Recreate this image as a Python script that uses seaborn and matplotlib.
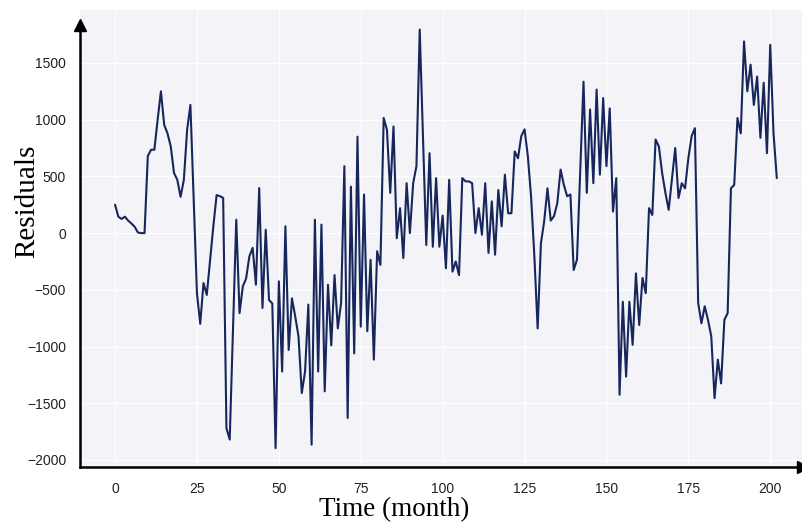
import numpy as np
import pandas as pd
import matplotlib
matplotlib.use("Agg")
import matplotlib.pyplot as plt
import seaborn as sns

# Monthly model residuals
residuals = [
    250, 145, 125, 145, 110, 85, 55, 5, 0, 0,
    680, 735, 735, 1000, 1250, 955, 880, 765, 530, 470,
    320, 470, 910, 1130, 300, -530, -800, -440, -545, -240,
    60, 335, 326, 310, -1720, -1820, -850, 118, -705, -470,
    -400, -205, -130, -455, 397, -660, 30, -590, -620, -1895,
    -425, -1220, 60, -1030, -575, -735, -910, -1410, -1220, -630,
    -1865, 118, -1220, 75, -1395, -455, -990, -370, -840, -615,
    590, -1630, 410, -1060, 850, -825, 340, -865, -235, -1115,
    -160, -280, 1015, 910, 355, 940, -45, 220, -220, 440,
    0, 440, 590, 1795, 850, -105, 705, -120, 485, -120,
    155, -310, 470, -340, -250, -370, 485, 456, 456, 440,
    0, 220, -15, 440, -175, 280, -190, 380, 60, 515,
    175, 175, 720, 660, 855, 915, 680, 320, -205, -840,
    -90, 105, 395, 110, 150, 265, 560, 425, 325, 340,
    -325, -235, 550, 1335, 355, 1090, 440, 1265, 515, 1190,
    590, 1100, 190, 485, -1425, -605, -1265, -605, -985, -355,
    -810, -395, -530, 220, 160, 825, 765, 530, 355, 205,
    480, 750, 310, 440, 395, 660, 855, 925, -615, -795,
    -645, -765, -910, -1455, -1115, -1325, -765, -705, 395, 425,
    1015, 880, 1690, 1250, 1485, 1130, 1380, 840, 1325, 705,
    1660, 880, 485,
]
months = list(range(len(residuals)))
x_ticks = [0, 25, 50, 75, 100, 125, 150, 175, 200]
y_ticks = [-2000, -1500, -1000, -500, 0, 500, 1000, 1500]

df = pd.DataFrame({"month": months, "residual": residuals})

sns.set_theme(style="darkgrid", rc={
    "axes.facecolor": "#f3f3f8",
    "grid.color": "white",
    "grid.linewidth": 1.0,
})
plt.rcParams["font.family"] = ["Liberation Sans", "DejaVu Sans"]

fig = plt.figure(figsize=(8.03, 5.25), dpi=100)
ax = fig.add_axes([80 / 803, 1 - 467 / 525, 723 / 803, 457 / 525])

sns.lineplot(data=df, x="month", y="residual", ax=ax,
             color="#17275c", linewidth=1.5)

ax.set_xlim(-10.7, 210)
ax.set_ylim(-2062, 1967)
ax.set_xticks(x_ticks)
ax.set_yticks(y_ticks)
ax.tick_params(axis="both", length=0, labelsize=10, colors="#222222")
ax.tick_params(axis="x", pad=11)
ax.tick_params(axis="y", pad=10)

for side in ("top", "right"):
    ax.spines[side].set_visible(False)
for side in ("left", "bottom"):
    ax.spines[side].set_visible(True)
    ax.spines[side].set_color("black")
    ax.spines[side].set_linewidth(1.8)
ax.spines["left"].set_bounds(-2062, 1835)

# arrow heads at the ends of both axes
ax.plot(-10.7, 1835, marker="^", color="black", markersize=9,
        clip_on=False, zorder=5)
ax.plot(1, 0, marker=">", color="black", markersize=9,
        transform=ax.transAxes, clip_on=False, zorder=5)

serif = ["Liberation Serif", "DejaVu Serif"]
ax.set_xlabel("Time (month)", fontsize=19.5, family=serif, color="black")
ax.set_ylabel("Residuals", fontsize=21, family=serif, color="black")
ax.xaxis.set_label_coords(0.434, -0.066)
ax.yaxis.set_label_coords(-0.055, 0.582)

fig.savefig("out.png", dpi=100, facecolor="white")
